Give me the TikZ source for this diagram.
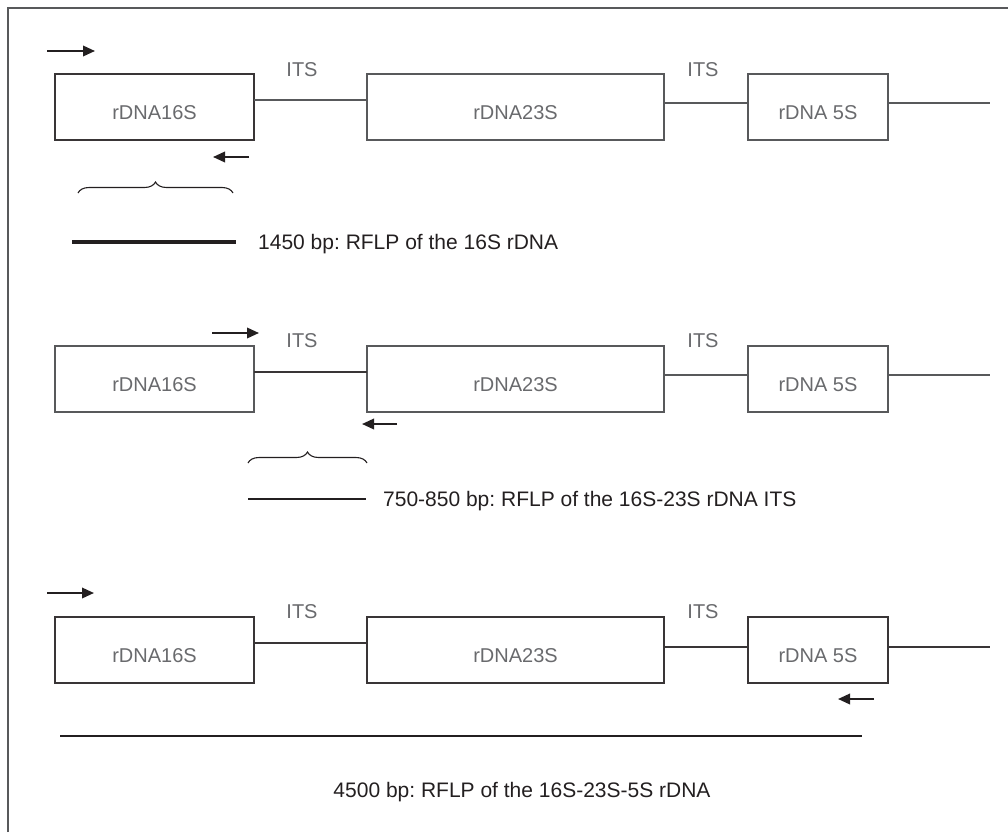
\documentclass[tikz,border=0pt]{standalone}
\usepackage{fontspec}
\setmainfont{Liberation Sans}
\usetikzlibrary{arrows.meta,decorations.pathreplacing}
\definecolor{genegrey}{RGB}{105,106,109}
\definecolor{linegrey}{RGB}{88,89,91}
\definecolor{inkdark}{RGB}{35,31,32}
\frenchspacing

\begin{document}
\begin{tikzpicture}[x=1pt, y=-1pt,
    gene/.style={rectangle, draw=linegrey, line width=1.3pt, minimum height=66pt,
                 inner sep=0pt, outer sep=0pt, text=genegrey,
                 font=\fontsize{20}{24}\selectfont, text height=24pt, text depth=0pt},
    genebold/.style={gene, draw=inkdark!90, line width=2.8pt},
    itslabel/.style={text=genegrey, font=\fontsize{20}{24}\selectfont, inner sep=0pt},
    amplabel/.style={text=inkdark, font=\fontsize{21}{25}\selectfont, inner sep=0pt},
    spacer/.style={draw=linegrey, line width=1.3pt},
    spacerbold/.style={draw=inkdark!90, line width=2.4pt},
    primer/.style={-{Triangle[length=12pt,width=10.5pt]}, line width=2pt, inkdark},
    amplicon/.style={draw=inkdark, line width=2.2pt},
    bracket/.style={decorate, decoration={brace, amplitude=11pt}, draw=inkdark, line width=1.1pt}
]
    \useasboundingbox (0,0) rectangle (1008,832);
    \draw[linegrey, line width=1.6pt] (8,832) -- (8,8) -- (1008,8);

    % 16S rDNA
    \node[genebold, minimum width=199pt] (ssu1)  at (154.5,107) {rDNA16S};
    \node[gene,     minimum width=297pt] (lsu1)  at (515.5,107) {rDNA23S};
    \node[gene,     minimum width=140pt] (five1) at (818,107)   {rDNA 5S};
    \node[itslabel] (itsa1) at (302,70) {ITS};
    \node[itslabel] (itsb1) at (703,70) {ITS};
    \coordinate (tail1) at (990,103);
    \draw[spacer] ([yshift=7pt]ssu1.east) -- ([yshift=7pt]lsu1.west);
    \draw[spacer] ([yshift=4pt]lsu1.east) -- ([yshift=4pt]five1.west);
    \draw[spacer] ([yshift=4pt]five1.east) -- (tail1);
    \coordinate (fwd1s) at (47,51);   \coordinate (fwd1e) at (95,51);
    \coordinate (rev1s) at (249,157); \coordinate (rev1e) at (213,157);
    \draw[primer] (fwd1s) -- (fwd1e);
    \draw[primer] (rev1s) -- (rev1e);
    \coordinate (br1s) at (78,193);   \coordinate (br1e) at (233,193);
    \draw[bracket] (br1s) -- (br1e);
    \coordinate (bar1s) at (72,242);  \coordinate (bar1e) at (236,242);
    \draw[amplicon, line width=4.6pt] (bar1s) -- (bar1e);
    \node[amplabel, anchor=base west] (lab1) at (258,249) {1450 bp: RFLP of the 16S rDNA};

    % 16S-23S ITS
    \node[gene, minimum width=199pt] (ssu2)  at (154.5,379) {rDNA16S};
    \node[gene, minimum width=297pt] (lsu2)  at (515.5,379) {rDNA23S};
    \node[gene, minimum width=140pt] (five2) at (818,379)   {rDNA 5S};
    \node[itslabel] (itsa2) at (302,341) {ITS};
    \node[itslabel] (itsb2) at (703,341) {ITS};
    \coordinate (tail2) at (990,375);
    \draw[spacerbold] ([yshift=7pt]ssu2.east) -- ([yshift=7pt]lsu2.west);
    \draw[spacer] ([yshift=4pt]lsu2.east) -- ([yshift=4pt]five2.west);
    \draw[spacer] ([yshift=4pt]five2.east) -- (tail2);
    \coordinate (fwd2s) at (212,333); \coordinate (fwd2e) at (259,333);
    \coordinate (rev2s) at (397,424); \coordinate (rev2e) at (362,424);
    \draw[primer] (fwd2s) -- (fwd2e);
    \draw[primer] (rev2s) -- (rev2e);
    \coordinate (br2s) at (248,463);  \coordinate (br2e) at (367,463);
    \draw[bracket] (br2s) -- (br2e);
    \coordinate (bar2s) at (248,499); \coordinate (bar2e) at (366,499);
    \draw[amplicon] (bar2s) -- (bar2e);
    \node[amplabel, anchor=base west] (lab2) at (383,506) {750-850 bp: RFLP of the 16S-23S rDNA ITS};

    % 16S-23S-5S rDNA
    \node[genebold, minimum width=199pt] (ssu3)  at (154.5,650) {rDNA16S};
    \node[genebold, minimum width=297pt] (lsu3)  at (515.5,650) {rDNA23S};
    \node[genebold, minimum width=140pt] (five3) at (818,650)   {rDNA 5S};
    \node[itslabel] (itsa3) at (302,612) {ITS};
    \node[itslabel] (itsb3) at (703,612) {ITS};
    \coordinate (tail3) at (990,647);
    \draw[spacerbold, line width=2pt] ([yshift=7pt]ssu3.east) -- ([yshift=7pt]lsu3.west);
    \draw[spacerbold, line width=2pt] ([yshift=3pt]lsu3.east) -- ([yshift=3pt]five3.west);
    \draw[spacerbold, line width=2pt] ([yshift=3pt]five3.east) -- (tail3);
    \coordinate (fwd3s) at (47,593);  \coordinate (fwd3e) at (94,593);
    \coordinate (rev3s) at (874,699); \coordinate (rev3e) at (838,699);
    \draw[primer] (fwd3s) -- (fwd3e);
    \draw[primer] (rev3s) -- (rev3e);
    \coordinate (bar3s) at (60,736);  \coordinate (bar3e) at (862,736);
    \draw[amplicon] (bar3s) -- (bar3e);
    \node[amplabel, anchor=base] (lab3) at (522,797) {4500 bp: RFLP of the 16S-23S-5S rDNA};
\end{tikzpicture}
\end{document}
